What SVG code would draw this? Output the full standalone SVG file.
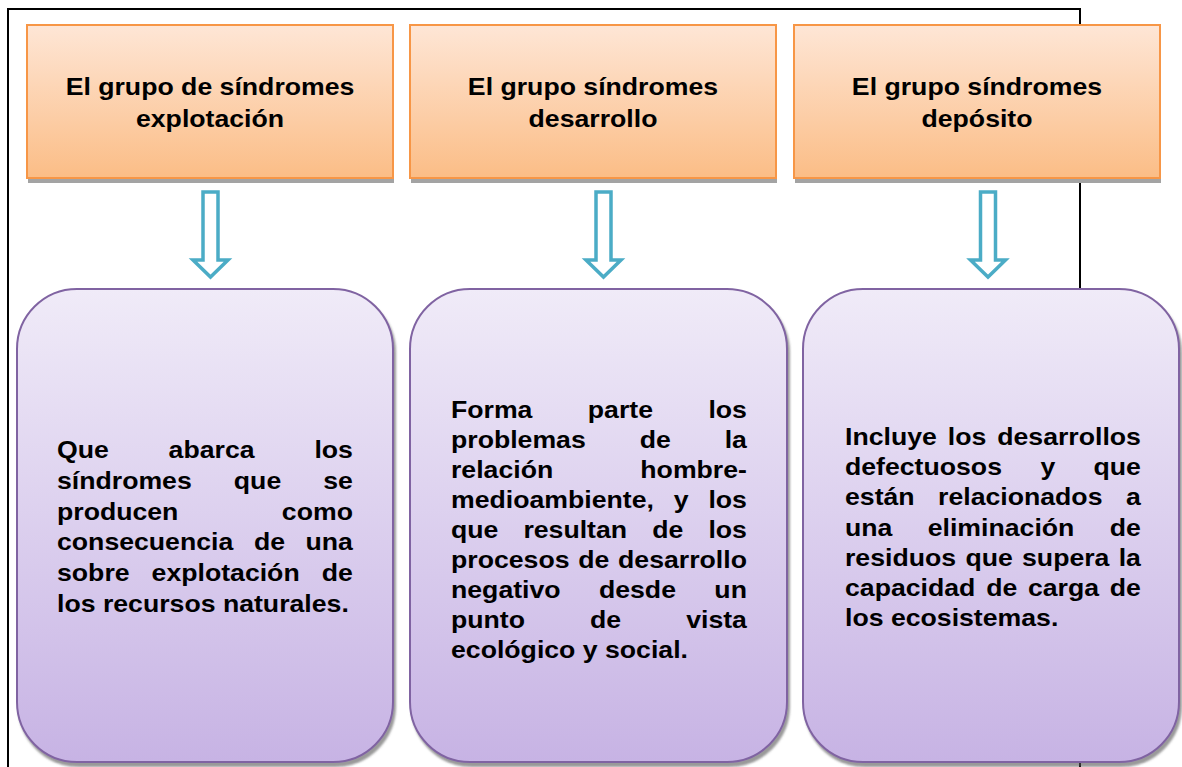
<svg xmlns="http://www.w3.org/2000/svg" width="1182" height="767" viewBox="0 0 1182 767">
<defs>
<linearGradient id="gOr" x1="0" y1="0" x2="0" y2="1"><stop offset="0" stop-color="#fee6d6"/><stop offset="1" stop-color="#fbbd86"/></linearGradient>
<linearGradient id="gPu" x1="0" y1="0" x2="0" y2="1"><stop offset="0" stop-color="#f0ebf8"/><stop offset="1" stop-color="#c7b3e4"/></linearGradient>
<filter id="sh" x="-5%" y="-5%" width="110%" height="110%"><feDropShadow dx="2" dy="4" stdDeviation="1" flood-color="#555" flood-opacity="0.6"/></filter>
</defs>
<style>
.hb{fill:url(#gOr);stroke:#f79646;stroke-width:2}
.hs{fill:#a3a3a3}
.pb{fill:url(#gPu);stroke:#8064a2;stroke-width:2;filter:url(#sh)}
.ar{fill:#fff;stroke:#4bacc6;stroke-width:3.5;stroke-linejoin:miter}
.ht{font-family:"Liberation Sans",Arial,sans-serif;font-weight:bold;font-size:24.5px;fill:#000;text-anchor:middle}
.bt{font-family:"Liberation Sans",Arial,sans-serif;font-weight:bold;font-size:24.5px;fill:#000}
.e{text-anchor:end}
</style>
<rect x="8" y="9" width="1072" height="820" fill="none" stroke="#000" stroke-width="2"/>

<g id="h1">
<rect class="hs" x="28" y="29" width="366" height="154"/>
<rect class="hb" x="27" y="25" width="366" height="153"/>
<text class="ht" transform="translate(210,94.5) scale(1.088,1)">El grupo de síndromes</text>
<text class="ht" transform="translate(210,127) scale(1.088,1)">explotación</text>
</g>
<g id="h2">
<rect class="hs" x="411" y="29" width="366" height="154"/>
<rect class="hb" x="410" y="25" width="366" height="153"/>
<text class="ht" transform="translate(593,94.5) scale(1.088,1)">El grupo síndromes</text>
<text class="ht" transform="translate(593,127) scale(1.088,1)">desarrollo</text>
</g>
<g id="h3">
<rect class="hs" x="795" y="29" width="366" height="154"/>
<rect class="hb" x="794" y="25" width="366" height="153"/>
<text class="ht" transform="translate(977,94.5) scale(1.088,1)">El grupo síndromes</text>
<text class="ht" transform="translate(977,127) scale(1.088,1)">depósito</text>
</g>

<g id="connectors">
<path class="ar" d="M203,192 H218 V260 H228 L210.5,277 L193,260 H203 Z"/>
<path class="ar" d="M596,192 H611 V260 H621 L603.5,277 L586,260 H596 Z"/>
<path class="ar" d="M980.5,192 H995.5 V260 H1005.5 L988,277 L970.5,260 H980.5 Z"/>
</g>

<g id="b1">
<rect class="pb" x="17" y="289" width="376" height="473" rx="60" ry="60"/>
<g transform="matrix(1.088,0,0,1,57,0)" class="bt">
<text x="0" y="458">Que</text><text x="102.6" y="458">abarca</text><text class="e" x="272" y="458">los</text>
<text x="0" y="488.8">síndromes</text><text x="162.55" y="488.8">que</text><text class="e" x="272" y="488.8">se</text>
<text x="0" y="519.6">producen</text><text class="e" x="272" y="519.6">como</text>
<text x="0" y="550.4">consecuencia</text><text x="181" y="550.4">de</text><text class="e" x="272" y="550.4">una</text>
<text x="0" y="581.2">sobre</text><text x="86.94" y="581.2">explotación</text><text class="e" x="272" y="581.2">de</text>
<text x="0" y="612">los recursos naturales.</text>
</g>
</g>

<g id="b2">
<rect class="pb" x="410" y="289" width="377" height="473" rx="60" ry="60"/>
<g transform="matrix(1.088,0,0,1,451,0)" class="bt">
<text x="0" y="418">Forma</text><text x="125.75" y="418">parte</text><text class="e" x="272" y="418">los</text>
<text x="0" y="448">problemas</text><text x="173.46" y="448">de</text><text class="e" x="272" y="448">la</text>
<text x="0" y="478">relación</text><text class="e" x="272" y="478">hombre-</text>
<text x="0" y="508">medioambiente,</text><text x="204.77" y="508">y</text><text class="e" x="272" y="508">los</text>
<text x="0" y="538">que</text><text x="66.58" y="538">resultan</text><text x="184.94" y="538">de</text><text class="e" x="272" y="538">los</text>
<text x="0" y="568">procesos</text><text x="116.93" y="568">de</text><text class="e" x="272" y="568">desarrollo</text>
<text x="0" y="598">negativo</text><text x="135.99" y="598">desde</text><text class="e" x="272" y="598">un</text>
<text x="0" y="628">punto</text><text x="127.78" y="628">de</text><text class="e" x="272" y="628">vista</text>
<text x="0" y="658">ecológico y social.</text>
</g>
</g>

<g id="b3">
<rect class="pb" x="803" y="289" width="376" height="473" rx="60" ry="60"/>
<g transform="matrix(1.088,0,0,1,845,0)" class="bt">
<text x="0" y="445">Incluye</text><text x="94.46" y="445">los</text><text class="e" x="272" y="445">desarrollos</text>
<text x="0" y="475.2">defectuosos</text><text x="179.58" y="475.2">y</text><text class="e" x="272" y="475.2">que</text>
<text x="0" y="505.4">están</text><text x="85.56" y="505.4">relacionados</text><text class="e" x="272" y="505.4">a</text>
<text x="0" y="535.6">una</text><text x="76.04" y="535.6">eliminación</text><text class="e" x="272" y="535.6">de</text>
<text x="0" y="565.8">residuos</text><text x="110.66" y="565.8">que</text><text x="162.73" y="565.8">supera</text><text class="e" x="272" y="565.8">la</text>
<text x="0" y="596">capacidad</text><text x="129.72" y="596">de</text><text x="168.15" y="596">carga</text><text class="e" x="272" y="596">de</text>
<text x="0" y="626.2">los ecosistemas.</text>
</g>
</g>
</svg>
